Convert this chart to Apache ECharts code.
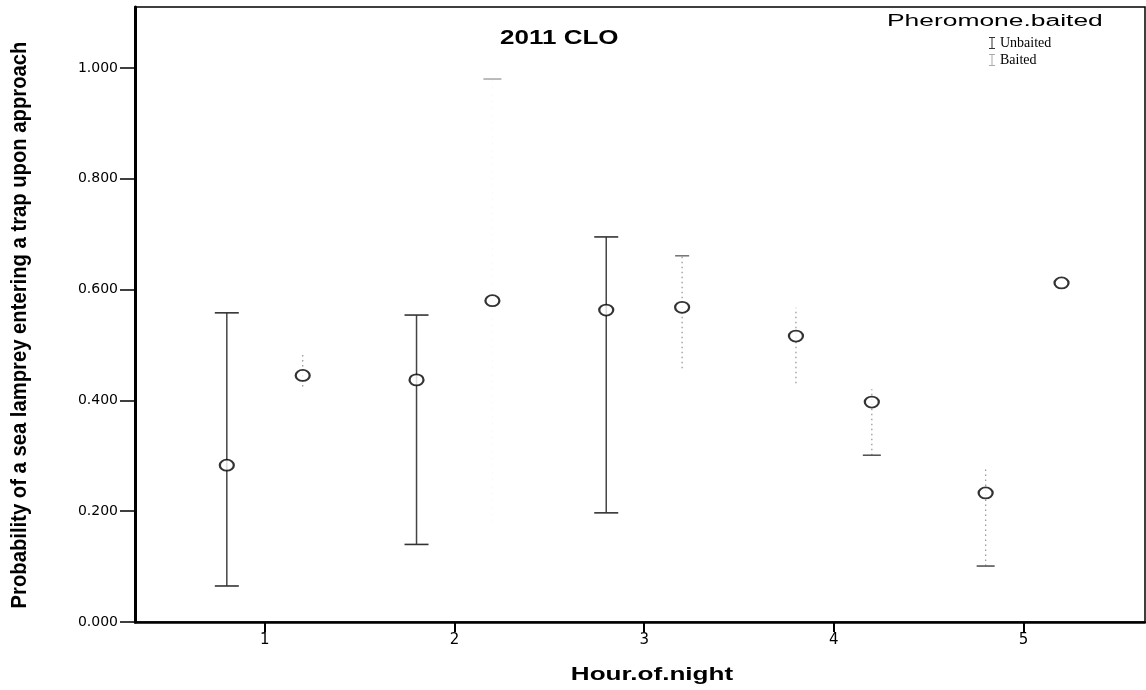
<!DOCTYPE html>
<html>
<head>
<meta charset="utf-8">
<script src="https://cdn.jsdelivr.net/npm/echarts@6/dist/echarts.min.js"></script>
<style>
html,body{margin:0;padding:0;background:#fff;}
#chart{width:1146px;height:690px;}
</style>
</head>
<body>
<div id="chart"></div>
<script>
// ---- data ----
const hours = [1, 2, 3, 4, 5];
const yTicks = [0, 0.2, 0.4, 0.6, 0.8, 1.0];
const seriesNames = ['Unbaited', 'Baited'];
const unbaitedMean = [0.283, 0.437, 0.563, 0.516, 0.233];
const unbaitedLow  = [0.065, 0.140, 0.197, 0.431, 0.101];
const unbaitedHigh = [0.558, 0.554, 0.695, 0.567, 0.280];
const baitedMean   = [0.445, 0.580, 0.568, 0.397, 0.612];
const baitedLow    = [0.425, 0.180, 0.458, 0.301, 0.595];
const baitedHigh   = [0.485, 0.980, 0.661, 0.420, 0.630];

// ---- styling (not data) ----
const OFFSET = 0.2;
const unbaitedStyle = ['solid', 'solid', 'solid', 'dotNone', 'dotBottom'];
const baitedStyle = ['dotNone', 'faintTop', 'dotTop', 'dotBottom', 'none'];

const STYLES = {
  solid:     { stroke: '#444', lineWidth: 1.5, lineDash: null,   top: '#333', bottom: '#333', capW: 12 },
  dotNone:   { stroke: '#999', lineWidth: 1.3, lineDash: [1.5, 3.5], top: null, bottom: null, capW: 8 },
  dotTop:    { stroke: '#999', lineWidth: 1.3, lineDash: [1.5, 3.5], top: '#777', bottom: null, capW: 7 },
  dotBottom: { stroke: '#999', lineWidth: 1.3, lineDash: [1.5, 3.5], top: null, bottom: '#555', capW: 9 },
  faintTop:  { stroke: '#f2f2f2', lineWidth: 1, lineDash: [1, 6], top: '#aaa', bottom: null, capW: 9 },
  none:      { stroke: '#eeeeee', lineWidth: 1, lineDash: [1, 8], top: null, bottom: null, capW: 8 }
};

function errData(mean, low, high, sign, styles) {
  return hours.map((h, i) => ({ value: [h + sign * OFFSET, low[i], high[i], mean[i]], kind: styles[i] }));
}

const unbErr = errData(unbaitedMean, unbaitedLow, unbaitedHigh, -1, unbaitedStyle);
const baiErr = errData(baitedMean, baitedLow, baitedHigh, 1, baitedStyle);

function renderErr(list) {
  return function (params, api) {
    const item = list[params.dataIndex];
    const x = api.value(0);
    const lo = api.coord([x, api.value(1)]);
    const hi = api.coord([x, api.value(2)]);
    const st = STYLES[item.kind];
    const cap = st.capW;
    const children = [
      { type: 'line', shape: { x1: lo[0], y1: lo[1], x2: hi[0], y2: hi[1] }, style: { stroke: st.stroke, lineWidth: st.lineWidth, lineDash: st.lineDash } }
    ];
    if (st.top) children.push({ type: 'line', shape: { x1: hi[0] - cap, y1: hi[1], x2: hi[0] + cap, y2: hi[1] }, style: { stroke: st.top, lineWidth: 1.6 } });
    if (st.bottom) children.push({ type: 'line', shape: { x1: lo[0] - cap, y1: lo[1], x2: lo[0] + cap, y2: lo[1] }, style: { stroke: st.bottom, lineWidth: 1.6 } });
    return { type: 'group', children };
  };
}

const chart = echarts.init(document.getElementById('chart'), null, { renderer: 'canvas' });
const option = {
  animation: false,
  backgroundColor: '#fff',
  grid: { left: 135, right: 1, top: 7, bottom: 68, show: true, borderColor: '#000', borderWidth: 1.5 },
  xAxis: {
    type: 'value', min: 0.316, max: 5.64,
    axisLine: { show: true, lineStyle: { color: '#000', width: 2.5 } },
    axisTick: { show: true, customValues: hours, length: 10, lineStyle: { color: '#000', width: 2 } },
    axisLabel: { customValues: hours, fontFamily: 'DejaVu Sans', fontSize: 15, color: '#000', margin: 11 },
    splitLine: { show: false }
  },
  yAxis: {
    type: 'value', min: 0, max: 1.11,
    axisLine: { show: true, lineStyle: { color: '#000', width: 3 } },
    axisTick: { show: true, customValues: yTicks, length: 15, lineStyle: { color: '#000', width: 1.5 } },
    axisLabel: { customValues: yTicks, formatter: v => v.toFixed(3), fontFamily: 'DejaVu Sans', fontSize: 14, color: '#000', margin: 17 },
    splitLine: { show: false }
  },
  legend: {
    orient: 'vertical', left: 984, top: 31, itemGap: 3, itemWidth: 6, itemHeight: 12,
    textStyle: { fontFamily: 'Liberation Serif, Times New Roman', fontSize: 14, color: '#000' },
    data: [
      { name: 'Unbaited', icon: 'path://M0,0 L6,0 L6,1 L3.5,1 L3.5,11 L6,11 L6,12 L0,12 L0,11 L2.5,11 L2.5,1 L0,1 Z', itemStyle: { color: '#333', borderWidth: 0 } },
      { name: 'Baited', icon: 'path://M0,0 L6,0 L6,1 L3.5,1 L3.5,11 L6,11 L6,12 L0,12 L0,11 L2.5,11 L2.5,1 L0,1 Z', itemStyle: { color: '#aaa', borderWidth: 0 } }
    ]
  },
  graphic: [
    { type: 'text', x: 500, y: 38, scaleX: 1.3, style: { text: '2011 CLO', fontFamily: 'Liberation Sans, Arial', fontWeight: 'bold', fontSize: 20, fill: '#000', textVerticalAlign: 'middle' } },
    { type: 'text', x: 887, y: 22, scaleX: 1.65, style: { text: 'Pheromone.baited', fontFamily: 'Liberation Sans, Arial', fontSize: 16, fill: '#000', textVerticalAlign: 'middle' } },
    { type: 'text', x: 652, y: 675, scaleX: 1.45, style: { text: 'Hour.of.night', fontFamily: 'Liberation Sans, Arial', fontWeight: 'bold', fontSize: 18, fill: '#000', textAlign: 'center', textVerticalAlign: 'middle' } },
    { type: 'text', x: 20, y: 325, rotation: Math.PI / 2, scaleX: 0.92, style: { text: 'Probability of a sea lamprey entering a trap upon approach', fontFamily: 'Liberation Sans, Arial', fontWeight: 'bold', fontSize: 22, fill: '#000', textAlign: 'center', textVerticalAlign: 'middle' } }
  ],
  series: [
    { type: 'custom', name: 'Unbaited', renderItem: renderErr(unbErr), data: unbErr.map(d => d.value), encode: { x: 0, y: [1, 2] }, z: 2, silent: true },
    { type: 'custom', name: 'Baited', renderItem: renderErr(baiErr), data: baiErr.map(d => d.value), encode: { x: 0, y: [1, 2] }, z: 2, silent: true },
    { type: 'scatter', name: 'Unbaited', data: hours.map((h, i) => [h - OFFSET, unbaitedMean[i]]), symbol: 'emptyCircle', symbolSize: [14, 11], itemStyle: { color: '#000', borderColor: '#000', borderWidth: 2.4 }, z: 5 },
    { type: 'scatter', name: 'Baited', data: hours.map((h, i) => [h + OFFSET, baitedMean[i]]), symbol: 'emptyCircle', symbolSize: [14, 11], itemStyle: { color: '#000', borderColor: '#000', borderWidth: 2.4 }, z: 5 }
  ]
};
chart.setOption(option);
</script>
</body>
</html>
